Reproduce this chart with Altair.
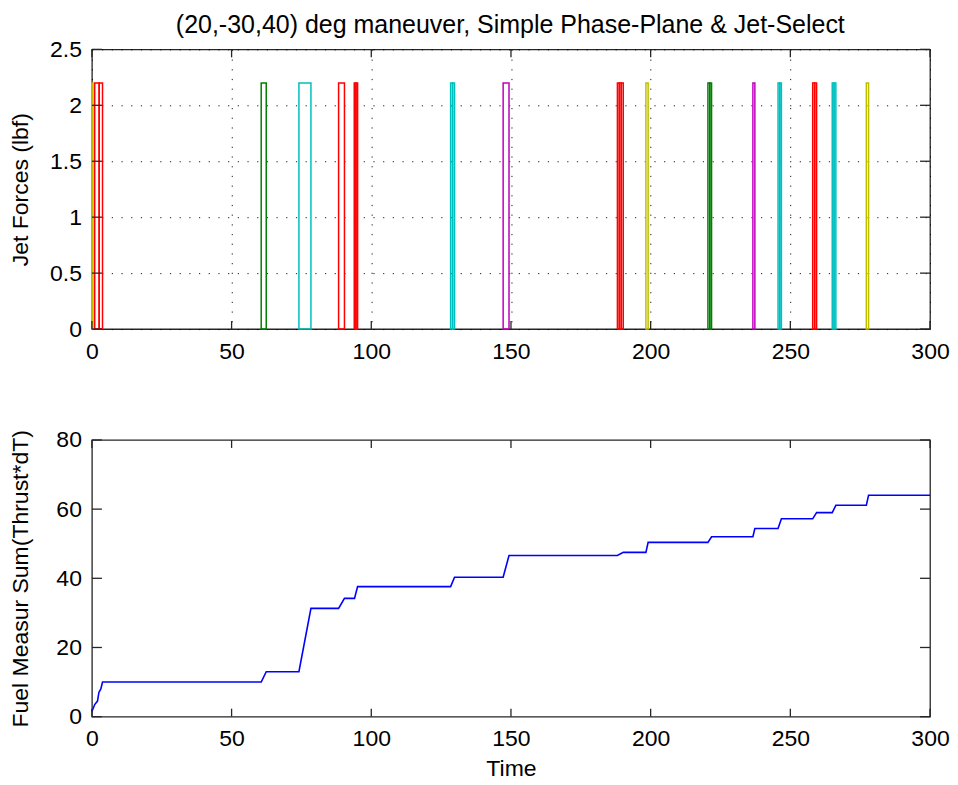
import altair as alt
import pandas as pd

title_text = "(20,-30,40) deg maneuver, Simple Phase-Plane & Jet-Select"

# jet firings (start, end in s), force (lbf), jet colour code
jet_on = [0.0, 1.0, 2.6, 60.6, 74.1, 88.3, 93.9, 94.5, 128.4, 129.1, 147.2,
          188.1, 188.8, 189.5, 198.3, 220.5, 221.15, 236.6, 245.6, 246.2,
          258.0, 258.7, 265.0, 265.65, 277.2]
jet_off = [0.4, 2.6, 3.8, 62.4, 78.4, 90.4, 94.5, 95.1, 129.1, 129.8, 149.3,
           188.8, 189.5, 190.2, 199.1, 221.15, 221.8, 237.3, 246.2, 246.8,
           258.7, 259.4, 265.65, 266.3, 278.0]
jet_force = [2.2, 2.2, 2.2, 2.2, 2.2, 2.2, 2.2, 2.2, 2.2, 2.2, 2.2,
             2.2, 2.2, 2.2, 2.2, 2.2, 2.2, 2.2, 2.2, 2.2,
             2.2, 2.2, 2.2, 2.2, 2.2]
jet_code = ["y", "r", "r", "g", "c", "r", "r", "r", "c", "c", "m",
            "r", "r", "r", "y", "g", "g", "m", "c", "c",
            "r", "r", "c", "c", "y"]

# cumulative fuel measure
fuel_t = [0, 1.0, 2.0, 2.5, 3.2, 3.8, 60.6, 62.4, 74.1, 78.4, 88.3, 90.4,
          94.0, 95.1, 128.4, 129.8, 147.2, 149.3, 188.1, 190.2, 198.3, 199.1,
          220.5, 221.8, 236.6, 237.3, 245.6, 246.8, 258.0, 259.4, 265.0,
          266.3, 277.2, 278.0, 300]
fuel_v = [1.5, 3.5, 4.5, 7.0, 8.0, 10.0, 10.0, 13.0, 13.0, 31.3, 31.3, 34.2,
          34.2, 37.6, 37.6, 40.3, 40.3, 46.6, 46.6, 47.5, 47.5, 50.4,
          50.4, 52.0, 52.0, 54.4, 54.4, 57.2, 57.2, 59.0, 59.0,
          61.1, 61.1, 64.0, 64.0]

x_ticks = [0, 50, 100, 150, 200, 250, 300]
y1_ticks = [0, 0.5, 1, 1.5, 2, 2.5]
y2_ticks = [0, 20, 40, 60, 80]

code_domain = ["r", "g", "c", "m", "y"]
code_range = ["#FF0000", "#008000", "#00BFBF", "#BF00BF", "#BFBF00"]

W, H1, H2 = 839, 280, 277
FONT = "Liberation Sans"
AX = "#262626"
XT, YT = 8, 10

jets = pd.DataFrame({"on": jet_on, "off": jet_off, "force": jet_force, "jet": jet_code})
fuel = pd.DataFrame({"t": fuel_t, "v": fuel_v})
xt = pd.DataFrame({"t": x_ticks})
yt1 = pd.DataFrame({"v": y1_ticks})
yt2 = pd.DataFrame({"v": y2_ticks})

xs = alt.Scale(domain=[0, 300], nice=False, zero=False)
ys1 = alt.Scale(domain=[0, 2.5], nice=False)
ys2 = alt.Scale(domain=[0, 80], nice=False)

lab = dict(labelFont=FONT, labelFontSize=23, labelColor="black", ticks=False,
           domain=False, labelFlush=False, titleFont=FONT, titleFontSize=23,
           titleFontWeight="normal", titleColor="black", format="~r")
grid = dict(grid=True, gridDash=[1.2, 8.5], gridColor="black", gridOpacity=0.9)
ytitle = dict(titleX=-71.5, titleBaseline="middle")

x_axis_top = alt.Axis(title=None, values=x_ticks, labelPadding=11, **grid, **lab)
y_axis_top = alt.Axis(title="Jet Forces (lbf)", values=y1_ticks, labelPadding=10.5,
                      **ytitle, **grid, **lab)
x_axis_bot = alt.Axis(title="Time", values=x_ticks, grid=False, labelPadding=11,
                      titlePadding=7, **lab)
y_axis_bot = alt.Axis(title="Fuel Measur Sum(Thrust*dT)", values=y2_ticks, grid=False,
                      labelPadding=10.5, **ytitle, **lab)


def tick_layers(ydata, yscale, H, xaxis, yaxis):
    r = dict(color=AX, strokeWidth=1.3)
    xb = alt.Chart(xt).mark_rule(**r).encode(
        x=alt.X("t:Q", scale=xs, axis=xaxis), y=alt.value(H), y2=alt.value(H - XT))
    xtp = alt.Chart(xt).mark_rule(**r).encode(
        x=alt.X("t:Q", scale=xs, axis=xaxis), y=alt.value(0), y2=alt.value(XT))
    yl = alt.Chart(ydata).mark_rule(**r).encode(
        y=alt.Y("v:Q", scale=yscale, axis=yaxis), x=alt.value(0), x2=alt.value(YT))
    yr = alt.Chart(ydata).mark_rule(**r).encode(
        y=alt.Y("v:Q", scale=yscale, axis=yaxis), x=alt.value(W - YT), x2=alt.value(W))
    return [xb, xtp, yl, yr]


rects = alt.Chart(jets).mark_rect(fillOpacity=0, strokeWidth=1.5).encode(
    x=alt.X("on:Q", scale=xs, axis=x_axis_top),
    x2="off:Q",
    y=alt.Y("force:Q", scale=ys1, axis=y_axis_top),
    y2=alt.datum(0),
    stroke=alt.Stroke("jet:N", scale=alt.Scale(domain=code_domain, range=code_range),
                      legend=None),
)

top = alt.layer(rects, *tick_layers(yt1, ys1, H1, x_axis_top, y_axis_top)).properties(
    width=W, height=H1)

line = alt.Chart(fuel).mark_line(color="#0000FF", strokeWidth=1.6).encode(
    x=alt.X("t:Q", scale=xs, axis=x_axis_bot),
    y=alt.Y("v:Q", scale=ys2, axis=y_axis_bot),
)

bottom = alt.layer(line, *tick_layers(yt2, ys2, H2, x_axis_bot, y_axis_bot)).properties(
    width=W, height=H2)

chart = alt.vconcat(top, bottom, spacing=64).properties(
    title=alt.TitleParams(title_text, font=FONT, fontSize=25, fontWeight="normal",
                          color="black", anchor="middle", offset=0, dx=31),
    padding={"left": 0, "top": 4, "right": 0, "bottom": 0},
    background="white",
).configure_view(stroke=AX, strokeWidth=1.3)

chart.save("out.html", embed_options={"renderer": "svg", "actions": False})
